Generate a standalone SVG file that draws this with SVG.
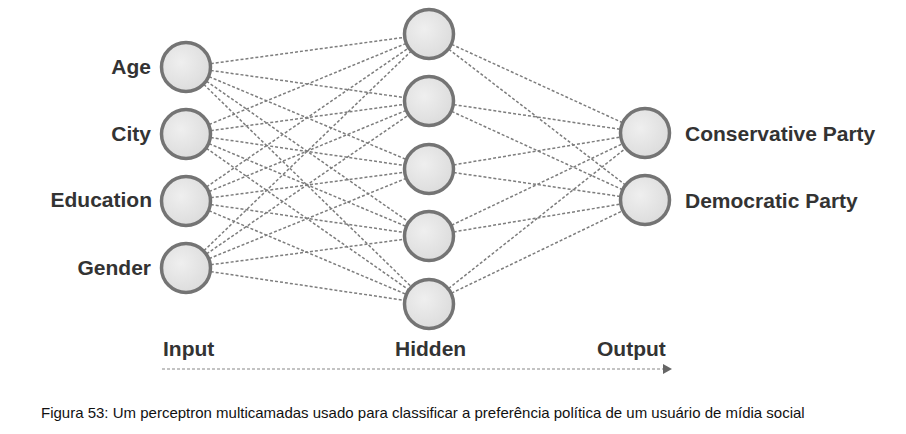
<svg xmlns="http://www.w3.org/2000/svg" width="906" height="434" viewBox="0 0 906 434">
<style>
.node circle{fill:url(#g);stroke:#747474;stroke-width:3.5}
.lbl{font-family:"Liberation Sans",Arial,sans-serif;font-weight:bold;font-size:21px;fill:#333}
.edges line{stroke:#7d7d7d;stroke-width:1.5;stroke-dasharray:3 2}
.cap{font-family:"Liberation Sans",Arial,sans-serif;font-size:15px;fill:#111}
</style>
<defs>
<radialGradient id="g" cx="0.4" cy="0.4" r="0.7">
<stop offset="0" stop-color="#efefef"/>
<stop offset="1" stop-color="#dadada"/>
</radialGradient>
<marker id="ah" markerWidth="9" markerHeight="10" refX="8" refY="5" orient="auto" markerUnits="userSpaceOnUse">
<path d="M0,0 L9,5 L0,10 Z" fill="#666"/>
</marker>
</defs>
<rect width="906" height="434" fill="#fff"/>
<g id="connectors" class="edges">
<line x1="186" y1="67" x2="429" y2="34"/><line x1="186" y1="67" x2="429" y2="101"/><line x1="186" y1="67" x2="429" y2="169"/><line x1="186" y1="67" x2="429" y2="236"/><line x1="186" y1="67" x2="429" y2="304"/>
<line x1="186" y1="134" x2="429" y2="34"/><line x1="186" y1="134" x2="429" y2="101"/><line x1="186" y1="134" x2="429" y2="169"/><line x1="186" y1="134" x2="429" y2="236"/><line x1="186" y1="134" x2="429" y2="304"/>
<line x1="186" y1="201" x2="429" y2="34"/><line x1="186" y1="201" x2="429" y2="101"/><line x1="186" y1="201" x2="429" y2="169"/><line x1="186" y1="201" x2="429" y2="236"/><line x1="186" y1="201" x2="429" y2="304"/>
<line x1="186" y1="268" x2="429" y2="34"/><line x1="186" y1="268" x2="429" y2="101"/><line x1="186" y1="268" x2="429" y2="169"/><line x1="186" y1="268" x2="429" y2="236"/><line x1="186" y1="268" x2="429" y2="304"/>
<line x1="429" y1="34" x2="645" y2="133"/><line x1="429" y1="34" x2="645" y2="200"/>
<line x1="429" y1="101" x2="645" y2="133"/><line x1="429" y1="101" x2="645" y2="200"/>
<line x1="429" y1="169" x2="645" y2="133"/><line x1="429" y1="169" x2="645" y2="200"/>
<line x1="429" y1="236" x2="645" y2="133"/><line x1="429" y1="236" x2="645" y2="200"/>
<line x1="429" y1="304" x2="645" y2="133"/><line x1="429" y1="304" x2="645" y2="200"/>
<line x1="162" y1="369" x2="671" y2="369" style="stroke:#888;stroke-width:1.2" marker-end="url(#ah)"/>
</g>
<g id="in-age" class="node"><circle cx="186" cy="67" r="24.5"/><text class="lbl" x="151" y="74" text-anchor="end">Age</text></g>
<g id="in-city" class="node"><circle cx="186" cy="134" r="24.5"/><text class="lbl" x="151" y="141" text-anchor="end">City</text></g>
<g id="in-education" class="node"><circle cx="186" cy="201" r="24.5"/><text class="lbl" x="152" y="207" text-anchor="end">Education</text></g>
<g id="in-gender" class="node"><circle cx="186" cy="268" r="24.5"/><text class="lbl" x="151" y="275" text-anchor="end">Gender</text></g>
<g id="h1" class="node"><circle cx="429" cy="34" r="24.5"/></g>
<g id="h2" class="node"><circle cx="429" cy="101" r="24.5"/></g>
<g id="h3" class="node"><circle cx="429" cy="169" r="24.5"/></g>
<g id="h4" class="node"><circle cx="429" cy="236" r="24.5"/></g>
<g id="h5" class="node"><circle cx="429" cy="304" r="24.5"/></g>
<g id="out-conservative" class="node"><circle cx="645" cy="133" r="24.5"/><text class="lbl" x="685" y="141">Conservative Party</text></g>
<g id="out-democratic" class="node"><circle cx="645" cy="200" r="24.5"/><text class="lbl" x="685" y="208">Democratic Party</text></g>
<g id="layer-labels">
<text class="lbl" x="163" y="356">Input</text>
<text class="lbl" x="395" y="356">Hidden</text>
<text class="lbl" x="597" y="356">Output</text>
</g>
<text class="cap" x="41" y="418">Figura 53: Um perceptron multicamadas usado para classificar a preferência política de um usuário de mídia social</text>
</svg>
